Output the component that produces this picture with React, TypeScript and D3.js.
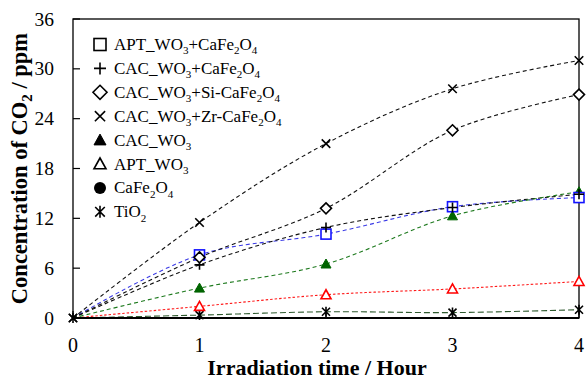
import React from "react";
import * as d3 from "d3";

// Irradiation time (hours) and CO2 concentration (ppm) per photocatalyst
const hours = [0, 1, 2, 3, 4];
const aptWo3CaFe2o4 = [0, 7.6, 10.1, 13.4, 14.5];
const cacWo3CaFe2o4 = [0, 6.4, 10.9, 13.3, 14.9];
const cacWo3SiCaFe2o4 = [0, 7.3, 13.2, 22.6, 26.9];
const cacWo3ZrCaFe2o4 = [0, 11.5, 21.0, 27.6, 31.0];
const cacWo3 = [0, 3.6, 6.5, 12.3, 15.2];
const aptWo3 = [0, 1.4, 2.8, 3.5, 4.4];
const caFe2o4: number[] = [];
const tio2 = [0, 0.35, 0.75, 0.65, 1.0];

const yTicks = [0, 6, 12, 18, 24, 30, 36];
const xTicks = [0, 1, 2, 3, 4];

type Part = { t: string; sub?: boolean };
type Marker = "square" | "plus" | "diamond" | "x" | "triUp" | "triOpen" | "circle" | "asterisk";

interface Series {
  label: Part[];
  values: number[];
  marker: Marker;
  color: string;
  markerColor: string;
  dash: string;
  markOrigin: boolean;
}

const series: Series[] = [
  { label: [{ t: "APT_WO" }, { t: "3", sub: true }, { t: "+CaFe" }, { t: "2", sub: true }, { t: "O" }, { t: "4", sub: true }], values: aptWo3CaFe2o4, marker: "square", color: "#3a3ae6", markerColor: "#1414ff", dash: "4,3", markOrigin: false },
  { label: [{ t: "CAC_WO" }, { t: "3", sub: true }, { t: "+CaFe" }, { t: "2", sub: true }, { t: "O" }, { t: "4", sub: true }], values: cacWo3CaFe2o4, marker: "plus", color: "#111", markerColor: "#000", dash: "4,3", markOrigin: false },
  { label: [{ t: "CAC_WO" }, { t: "3", sub: true }, { t: "+Si-CaFe" }, { t: "2", sub: true }, { t: "O" }, { t: "4", sub: true }], values: cacWo3SiCaFe2o4, marker: "diamond", color: "#111", markerColor: "#000", dash: "4,3", markOrigin: false },
  { label: [{ t: "CAC_WO" }, { t: "3", sub: true }, { t: "+Zr-CaFe" }, { t: "2", sub: true }, { t: "O" }, { t: "4", sub: true }], values: cacWo3ZrCaFe2o4, marker: "x", color: "#111", markerColor: "#000", dash: "4,3", markOrigin: true },
  { label: [{ t: "CAC_WO" }, { t: "3", sub: true }], values: cacWo3, marker: "triUp", color: "#1e7a1e", markerColor: "#006400", dash: "4,3", markOrigin: false },
  { label: [{ t: "APT_WO" }, { t: "3", sub: true }], values: aptWo3, marker: "triOpen", color: "#ff1a1a", markerColor: "#ff0000", dash: "2.5,2", markOrigin: false },
  { label: [{ t: "CaFe" }, { t: "2", sub: true }, { t: "O" }, { t: "4", sub: true }], values: caFe2o4, marker: "circle", color: "#000", markerColor: "#000", dash: "4,3", markOrigin: false },
  { label: [{ t: "TiO" }, { t: "2", sub: true }], values: tio2, marker: "asterisk", color: "#2f5a2f", markerColor: "#000", dash: "6,3", markOrigin: true },
];

// marker stacking: triangles beneath, then square, plus, diamond, cross
const markerOrder = [7, 6, 5, 4, 0, 1, 2, 3];

const W = 587;
const H = 381;
const M = { left: 73, right: 579, top: 19, bottom: 318 };

const x = d3.scaleLinear().domain([0, 4]).range([M.left, M.right]);
const y = d3.scaleLinear().domain([0, 36]).range([M.bottom, M.top]);

const FONT = "'Liberation Serif', 'Times New Roman', serif";

function MarkerShape({ kind, cx, cy, s, color }: { kind: Marker; cx: number; cy: number; s: number; color: string }) {
  const h = s / 2;
  const sw = 1.6;
  switch (kind) {
    case "square":
      return <rect x={cx - h} y={cy - h} width={s} height={s} fill="white" stroke={color} strokeWidth={sw} />;
    case "plus":
      return <path d={`M${cx - h},${cy}H${cx + h}M${cx},${cy - h}V${cy + h}`} stroke={color} strokeWidth={sw} fill="none" />;
    case "diamond":
      return <path d={`M${cx},${cy - h}L${cx + h},${cy}L${cx},${cy + h}L${cx - h},${cy}Z`} fill="white" stroke={color} strokeWidth={sw} />;
    case "x": {
      const k = h * 0.85;
      return <path d={`M${cx - k},${cy - k}L${cx + k},${cy + k}M${cx - k},${cy + k}L${cx + k},${cy - k}`} stroke={color} strokeWidth={sw} fill="none" />;
    }
    case "triUp":
      return <path d={`M${cx},${cy - h}L${cx + h},${cy + h * 0.8}L${cx - h},${cy + h * 0.8}Z`} fill={color} stroke={color} strokeWidth={1} />;
    case "triOpen":
      return <path d={`M${cx},${cy - h}L${cx + h},${cy + h * 0.8}L${cx - h},${cy + h * 0.8}Z`} fill="white" stroke={color} strokeWidth={sw} />;
    case "circle":
      return <circle cx={cx} cy={cy} r={h} fill={color} />;
    case "asterisk": {
      const k = h * 0.8;
      return (
        <path
          d={`M${cx - k},${cy - k}L${cx + k},${cy + k}M${cx - k},${cy + k}L${cx + k},${cy - k}M${cx},${cy - h}V${cy + h}`}
          stroke={color}
          strokeWidth={sw}
          fill="none"
        />
      );
    }
  }
}

function Label({ parts, xPos, yPos, size }: { parts: Part[]; xPos: number; yPos: number; size: number }) {
  return (
    <text x={xPos} y={yPos} fontFamily={FONT} fontSize={size} fill="#000">
      {parts.map((p, i) =>
        p.sub ? (
          <tspan key={i} fontSize={size * 0.65} dy={size * 0.25}>
            {p.t}
          </tspan>
        ) : (
          <tspan key={i} dy={i > 0 && parts[i - 1].sub ? -size * 0.25 : 0}>
            {p.t}
          </tspan>
        )
      )}
    </text>
  );
}

export default function App() {
  const line = d3
    .line<number>()
    .x((_, i) => x(hours[i]))
    .y((v) => y(v))
    .curve(d3.curveCatmullRom.alpha(0.5));

  const legendX = 100;
  const legendY0 = 44.5;
  const legendStep = 23.9;

  return (
    <div style={{ position: "fixed", left: 0, top: 0 }}>
      <svg width={W} height={H} viewBox={`0 0 ${W} ${H}`} style={{ display: "block", background: "white" }}>
        <defs>
          <clipPath id="plotClip">
            <rect x={M.left - 8} y={M.top - 8} width={M.right - M.left + 16} height={M.bottom - M.top + 16} />
          </clipPath>
        </defs>

        {/* series lines */}
        <g clipPath="url(#plotClip)">
          {series.map((s, i) =>
            s.values.length > 1 ? (
              <path key={i} d={line(s.values) || ""} fill="none" stroke={s.color} strokeWidth={1.1} strokeDasharray={s.dash} />
            ) : null
          )}
        </g>

        {/* plot frame and axes */}
        <rect x={M.left} y={M.top} width={M.right - M.left} height={M.bottom - M.top} fill="none" stroke="#000" strokeWidth={1.3} />
        <line x1={M.left} x2={M.right} y1={M.bottom} y2={M.bottom} stroke="#000" strokeWidth={2} />
        {yTicks.map((t) => (
          <g key={t}>
            <line x1={M.left} x2={M.left + 7} y1={y(t)} y2={y(t)} stroke="#000" strokeWidth={1.2} />
            <text x={54} y={y(t) + 6.5} textAnchor="end" fontFamily={FONT} fontSize={19.5}>
              {t}
            </text>
          </g>
        ))}
        {xTicks.map((t) => (
          <g key={t}>
            <line x1={x(t)} x2={x(t)} y1={M.bottom} y2={M.bottom - 7} stroke="#000" strokeWidth={1.2} />
            <text x={x(t)} y={352} textAnchor="middle" fontFamily={FONT} fontSize={20}>
              {t}
            </text>
          </g>
        ))}

        {/* markers */}
        {markerOrder.map((i) => {
          const s = series[i];
          return s.values.map((v, j) =>
            j === 0 && !s.markOrigin ? null : (
              <MarkerShape key={`${i}-${j}`} kind={s.marker} cx={x(hours[j])} cy={y(v)} s={s.marker === "diamond" ? 11 : 10} color={s.markerColor} />
            )
          );
        })}

        {/* axis titles */}
        <text x={317} y={375} textAnchor="middle" fontFamily={FONT} fontWeight="bold" fontSize={22}>
          Irradiation time / Hour
        </text>
        <text transform={`translate(27,${(M.top + M.bottom) / 2}) rotate(-90)`} textAnchor="middle" fontFamily={FONT} fontWeight="bold" fontSize={22.5}>
          Concentration of CO<tspan fontSize={15} dy={5}>2</tspan>
          <tspan dy={-5}> / ppm</tspan>
        </text>

        {/* legend */}
        {series.map((s, i) => (
          <g key={i}>
            <MarkerShape kind={s.marker} cx={legendX} cy={legendY0 + i * legendStep} s={s.marker === "diamond" ? 14 : 12} color="#000" />
            <Label parts={s.label} xPos={114} yPos={legendY0 + i * legendStep + 5.5} size={17} />
          </g>
        ))}
      </svg>
    </div>
  );
}
